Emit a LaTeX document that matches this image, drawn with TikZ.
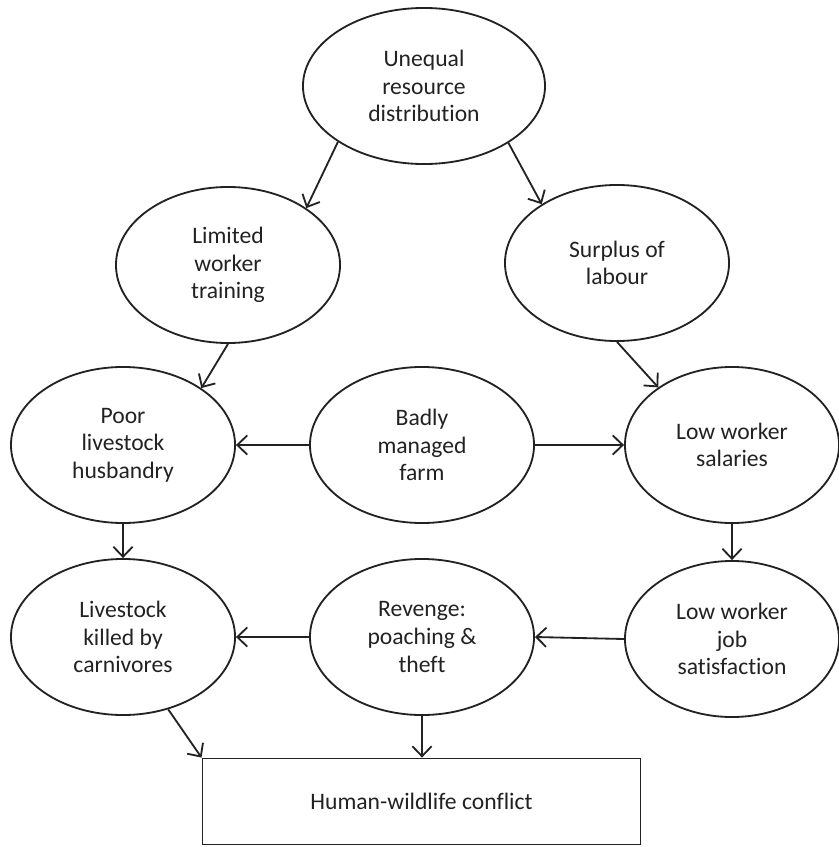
\documentclass[tikz,border=0pt]{standalone}
\usepackage{fontspec}
\setmainfont{Carlito}[Ligatures=NoCommon]
\usepackage{tikz}
\usetikzlibrary{arrows.meta,shapes.geometric}
\definecolor{CauseInk}{HTML}{222222}

\begin{document}
\begin{tikzpicture}[
  x=0.025cm,y=-0.025cm,
  cause/.style={ellipse,draw=CauseInk,line width=1.3pt,inner sep=0pt,
    minimum width=5.6cm,minimum height=3.9cm,
    font=\fontsize{16.8}{19.6}\selectfont,align=center,text=CauseInk},
  result/.style={rectangle,draw=CauseInk,line width=1.3pt,
    minimum width=10.95cm,minimum height=2.15cm,
    font=\fontsize{16.8}{19.6}\selectfont,text=CauseInk},
  arrow/.style={-{Straight Barb[length=2.5mm,width=4.8mm]},draw=CauseInk,line width=1.3pt}
]
\useasboundingbox (0,0) rectangle (839,847);
\node[cause,minimum width=6.05cm] (unequal) at (424,86) {Unequal\\resource\\distribution};
\node[cause] (training) at (228,265) {Limited\\worker\\training};
\node[cause] (surplus) at (617,263) {Surplus of\\labour};
\node[cause] (husbandry) at (123,445) {Poor\\livestock\\husbandry};
\node[cause] (farm) at (422,445) {Badly\\managed\\farm};
\node[cause,minimum width=5.35cm] (salaries) at (732,445) {Low worker\\salaries};
\node[cause] (killed) at (123,637) {Livestock\\killed by\\carnivores};
\node[cause] (revenge) at (422,637) {Revenge:\\poaching \&\\theft};
\node[cause,minimum width=5.35cm] (satisfaction) at (732,639) {Low worker\\job\\satisfaction};
\node[result] (conflict) at (421.5,801.5) {Human-wildlife conflict};
\draw[arrow] (unequal.213) -- (training.36);
\draw[arrow] (unequal.326) -- (surplus.142);
\draw[arrow] (training.south) -- (husbandry.36);
\draw[arrow] (surplus.south) -- (salaries.142);
\draw[arrow] (farm.west) -- (husbandry.east);
\draw[arrow] (farm.east) -- (salaries.west);
\draw[arrow] (husbandry.south) -- (killed.north);
\draw[arrow] (salaries.south) -- (satisfaction.north);
\draw[arrow] (satisfaction.west) -- (revenge.east);
\draw[arrow] (revenge.west) -- (killed.east);
\draw[arrow] (killed.302) -- (conflict.north west);
\draw[arrow] (revenge.south) -- (revenge.south |- conflict.north);
\end{tikzpicture}
\end{document}
